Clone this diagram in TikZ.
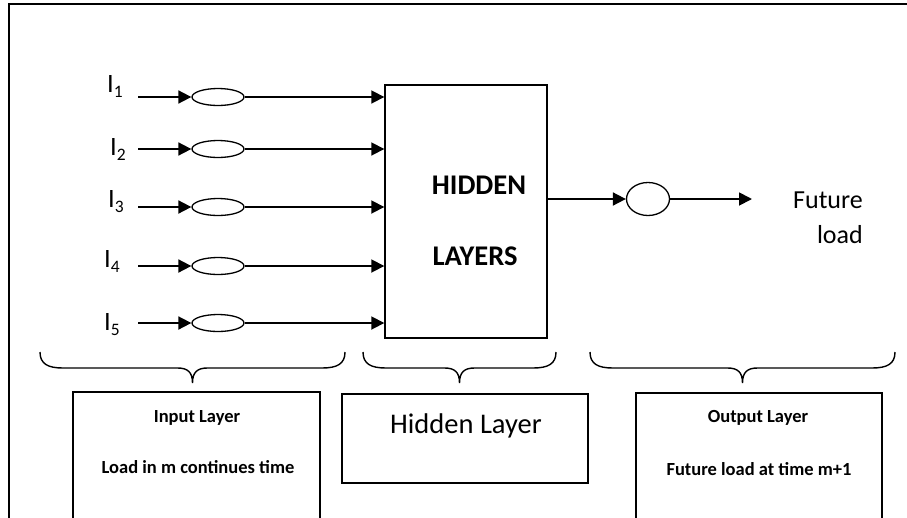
\documentclass[tikz,border=0pt]{standalone}
\usepackage{fontspec}
\setmainfont{Carlito}
\usetikzlibrary{arrows.meta,shapes.geometric}

\tikzset{
  arr/.style={line width=1.8pt, -{Triangle[length=13pt,width=13pt]}},
  neuron/.style={draw, line width=1.3pt, ellipse, inner sep=0pt},
  frame/.style={line width=1.4pt},
  boxline/.style={line width=1.4pt},
  bracestyle/.style={line width=1.4pt},
  lbl/.style={inner sep=0pt, anchor=base west},
  txt/.style={inner sep=0pt, anchor=base},
  curly/.pic={
    \draw[bracestyle] (0,0) .. controls (0,12) and (8,16) .. (23,16)
      -- ({#1/2-15},16) .. controls ({#1/2-5},16) and ({#1/2},20) .. ({#1/2},31)
      .. controls ({#1/2},20) and ({#1/2+5},16) .. ({#1/2+15},16)
      -- ({#1-23},16) .. controls ({#1-8},16) and (#1,12) .. (#1,0);
  }
}

\newcommand{\inlabel}[1]{\fontsize{26.5}{30}\selectfont I\raisebox{-5.5pt}{\fontsize{17.5}{18}\selectfont #1}}

\begin{document}
\begin{tikzpicture}[x=1pt, y=-1pt]
  \useasboundingbox (0,0) rectangle (907,517);
  \clip (0,0) rectangle (907,517);

  % outer frame (top and left edges)
  \draw[frame] (907,4) -- (9,4) -- (9,520);

  % hidden layer block
  \node[draw, line width=1.4pt, minimum width=162pt, minimum height=253pt, inner sep=0pt]
    (hid) at (466,211.5) {};
  \node[txt, font=\fontsize{28.5}{32}\selectfont\bfseries] (hidA) at (479,194) {HIDDEN};
  \node[txt, font=\fontsize{28.5}{32}\selectfont\bfseries] (hidB) at (475,265) {LAYERS};

  % input neurons
  \foreach \i/\y/\lx/\ly in {1/97/107/92, 2/149/110/155, 3/207/108/207, 4/266/104/267, 5/323/104/330}{
    \node[lbl] (L\i) at (\lx,\ly) {\inlabel{\i}};
    \coordinate (s\i) at (138,\y);
    \node[neuron, minimum width=52pt, minimum height=17pt] (e\i) at (218,\y) {};
    \draw[arr] (s\i) -- (e\i.west);
    \draw[arr] (e\i.east) -- (e\i.east -| hid.west);
  }

  % output neuron
  \node[neuron, minimum width=43pt, minimum height=33pt] (eo) at (648,199) {};
  \coordinate (fo) at (752,199);
  \draw[arr] (eo.west -| hid.east) -- (eo.west);
  \draw[arr] (eo.east) -- (fo);
  \node[inner sep=0pt, anchor=base east, font=\fontsize{26}{30}\selectfont] (fut1) at (863,208) {Future};
  \node[inner sep=0pt, anchor=base east, font=\fontsize{26}{30}\selectfont] (fut2) at (863,243) {load};

  % braces
  \pic at (40,352) {curly=305};
  \pic at (363,352) {curly=193};
  \pic at (590,352) {curly=305};

  % description boxes
  \draw[boxline] (73,520) -- (73,392) -- (320,392) -- (320,520);
  \node[txt, font=\fontsize{18.5}{22}\selectfont\bfseries] (inA) at (197,422) {Input Layer};
  \node[txt, font=\fontsize{18.5}{22}\selectfont\bfseries] (inB) at (198,473) {Load in m continues time};

  \draw[boxline] (342,394) rectangle (588,483);
  \node[txt, font=\fontsize{28.5}{32}\selectfont] (hl) at (466,433) {Hidden Layer};

  \draw[boxline] (636,520) -- (636,393) -- (882,393) -- (882,520);
  \node[txt, font=\fontsize{18.5}{22}\selectfont\bfseries] (outA) at (758,422.5) {Output Layer};
  \node[txt, font=\fontsize{18.5}{22}\selectfont\bfseries] (outB) at (759,475) {Future load at time m+1};
\end{tikzpicture}
\end{document}
